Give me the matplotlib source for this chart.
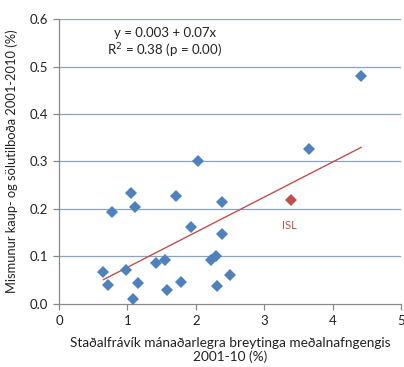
import numpy as np
import matplotlib
matplotlib.use('Agg')
import matplotlib.pyplot as plt

plt.rcParams['font.family'] = ['Lato', 'DejaVu Sans']

# Countries: exchange rate volatility vs. bid-ask spread
volatility = [0.65, 0.71, 0.78, 0.98, 1.05, 1.087, 1.107, 1.155, 1.42, 1.555,
              1.575, 1.71, 1.79, 1.925, 2.037, 2.215, 2.295, 2.305, 2.38, 2.38,
              2.5, 3.655, 4.415]
spread = [0.067, 0.040, 0.193, 0.072, 0.233, 0.011, 0.204, 0.045, 0.086, 0.093,
          0.030, 0.227, 0.046, 0.161, 0.301, 0.093, 0.101, 0.037, 0.214, 0.148,
          0.060, 0.326, 0.480]

# Iceland
isl_x = [3.387]
isl_y = [0.219]

# Regression line
intercept = 0.003
slope = 0.074

blue = '#4F81BD'
red = '#C0504D'
grid_col = '#8BA3BB'

fig = plt.figure(figsize=(4.04, 3.67), dpi=100)
ax = fig.add_axes([0.146, 0.172, 0.847, 0.776])

for yv in [0.1, 0.2, 0.3, 0.4, 0.5, 0.6]:
    ax.axhline(yv, color=grid_col, linewidth=0.9, zorder=0)

xs = np.array([min(volatility), max(volatility)])
ax.plot(xs, intercept + slope * xs, color=red, linewidth=1.0, zorder=2)

ax.plot(volatility, spread, linestyle='none', marker='D', markersize=6.4,
        color=blue, markeredgewidth=0, zorder=3)
ax.plot(isl_x, isl_y, linestyle='none', marker='D', markersize=6.4,
        color=red, markeredgewidth=0, zorder=3)
ax.text(isl_x[0] - 0.02, isl_y[0] - 0.053, 'ISL', color=red, fontsize=8,
        ha='center', va='center')

ax.text(1.55, 0.548, 'y = 0.003 + 0.07x\nR$^{2}$ = 0.38 (p = 0.00)',
        ha='center', va='center', fontsize=9.5, color='#222222', linespacing=1.2)

ax.set_xlim(0, 5)
ax.set_ylim(0, 0.6)
ax.set_xticks([0, 1, 2, 3, 4, 5])
ax.set_yticks([0.0, 0.1, 0.2, 0.3, 0.4, 0.5, 0.6])
ax.set_yticklabels(['0.0', '0.1', '0.2', '0.3', '0.4', '0.5', '0.6'])

for s in ['top', 'right']:
    ax.spines[s].set_visible(False)
for s in ['left', 'bottom']:
    ax.spines[s].set_color('#888888')
    ax.spines[s].set_linewidth(0.9)
ax.tick_params(axis='both', direction='out', length=4, width=0.9,
               color='#888888', labelsize=9.5, labelcolor='#222222', pad=4)

ax.set_xlabel('Staðalfrávík mánaðarlegra breytinga meðalnafngengis\n2001-10 (%)',
              fontsize=9.8, color='#222222', labelpad=7, linespacing=1.15)
ax.set_ylabel('Mismunur kaup- og sölutilboða 2001-2010 (%)', fontsize=9.3,
              color='#222222', labelpad=8)

fig.savefig('out.png', dpi=100)
